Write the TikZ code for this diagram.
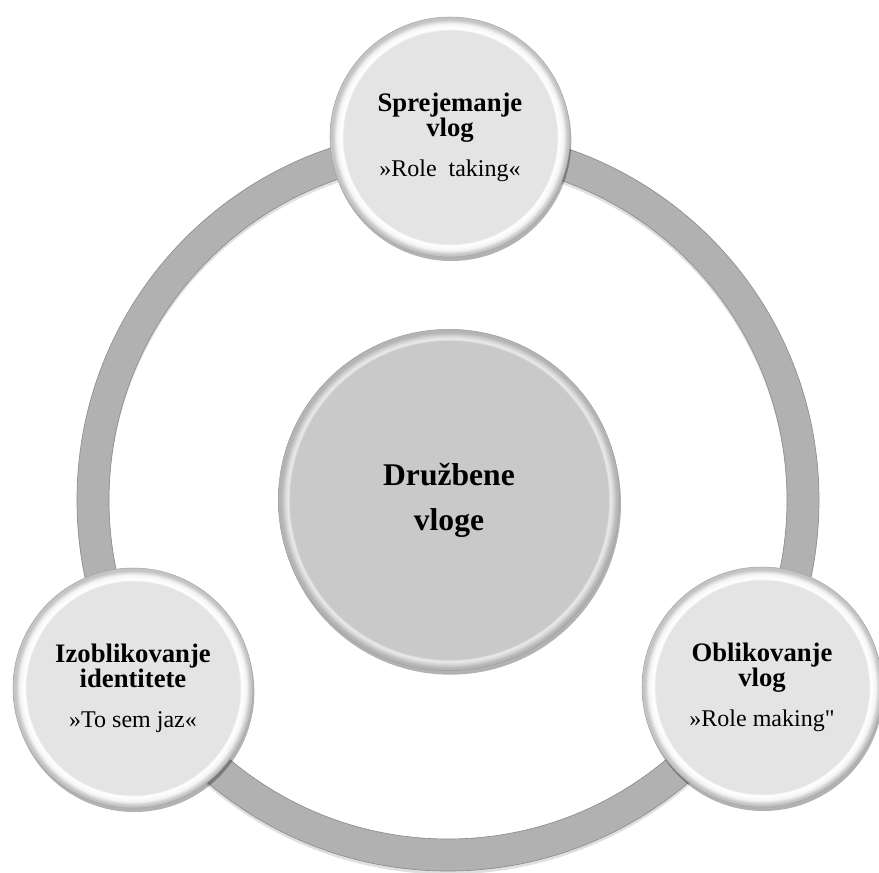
\documentclass[tikz,border=0pt]{standalone}
\usepackage{fontspec}
\setmainfont{Liberation Serif}
\usetikzlibrary{shadows}

\definecolor{ringgray}{HTML}{B1B1B1}
\definecolor{ringedge}{HTML}{8E8E8E}
\definecolor{satfill}{HTML}{E4E4E4}
\definecolor{satedge}{HTML}{C4C4C4}
\definecolor{hubfill}{HTML}{C9C9C9}
\definecolor{hubedge}{HTML}{B4B4B4}

\newcommand{\straightquote}{\XeTeXglyph\XeTeXcharglyph"0022\relax}

% rim shadings (25bp = edge of the node)
\pgfdeclareradialshading{satshade}{\pgfpoint{0bp}{0bp}}{%
  color(0bp)=(satfill); color(22.2bp)=(satfill); color(22.6bp)=(white);
  color(23.6bp)=(white!96!black); color(24.5bp)=(satedge); color(25bp)=(satedge);
  color(50bp)=(satedge)}
\pgfdeclareradialshading{hubshade}{\pgfpoint{0bp}{0bp}}{%
  color(0bp)=(hubfill); color(23.3bp)=(hubfill); color(23.6bp)=(white!92!black);
  color(24bp)=(white!85!black); color(24.6bp)=(hubedge); color(25bp)=(hubedge);
  color(50bp)=(hubedge)}

\begin{document}
\begin{tikzpicture}[x=0.75pt, y=-0.75pt]
    \tikzset{
      ringline/.style={line width=24pt, draw=ringgray},
      satellite/.style={circle, minimum size=180pt, inner sep=0pt, shade, shading=satshade,
        draw=gray!70, line width=0.4pt, align=center,
        drop shadow={shadow xshift=1pt, shadow yshift=-3pt, opacity=0.3, fill=black},
        font=\bfseries\fontsize{20}{18.75}\selectfont},
      hub/.style={circle, minimum size=256pt, inner sep=0pt, shade, shading=hubshade,
        draw=gray!75, line width=0.4pt, align=center,
        drop shadow={shadow xshift=1pt, shadow yshift=-3pt, opacity=0.3, fill=black},
        font=\bfseries\fontsize{23.7}{33.75}\selectfont}
    }
    \useasboundingbox (0,0) rectangle (879,872);

    % Ring
    \coordinate (c) at (448,500);
    \draw[line width=24pt, black, opacity=0.12] ([yshift=-2.5pt]c) circle (266.25pt);
    \draw[ringline] (c) circle (266.25pt);
    \draw[ringedge, line width=0.5pt] (c) circle (278.25pt);
    \draw[ringedge, line width=0.5pt] (c) circle (254.25pt);

    % Centre
    \node[hub] (roles) at (449,500) {Družbene\\vloge};

    % Satellites
    \node[satellite] (taking) at (450,137)
      {Sprejemanje\\vlog\\[11pt]{\mdseries\fontsize{18}{18.75}\selectfont »Role\enspace taking«}};
    \node[satellite] (identity) at (133,688)
      {Izoblikovanje\\identitete\\[11pt]{\mdseries\fontsize{18}{18.75}\selectfont »To sem jaz«}};
    \node[satellite] (making) at (762,687)
      {Oblikovanje\\vlog\\[11pt]{\mdseries\fontsize{18}{18.75}\selectfont »Role making\straightquote}};
\end{tikzpicture}
\end{document}
